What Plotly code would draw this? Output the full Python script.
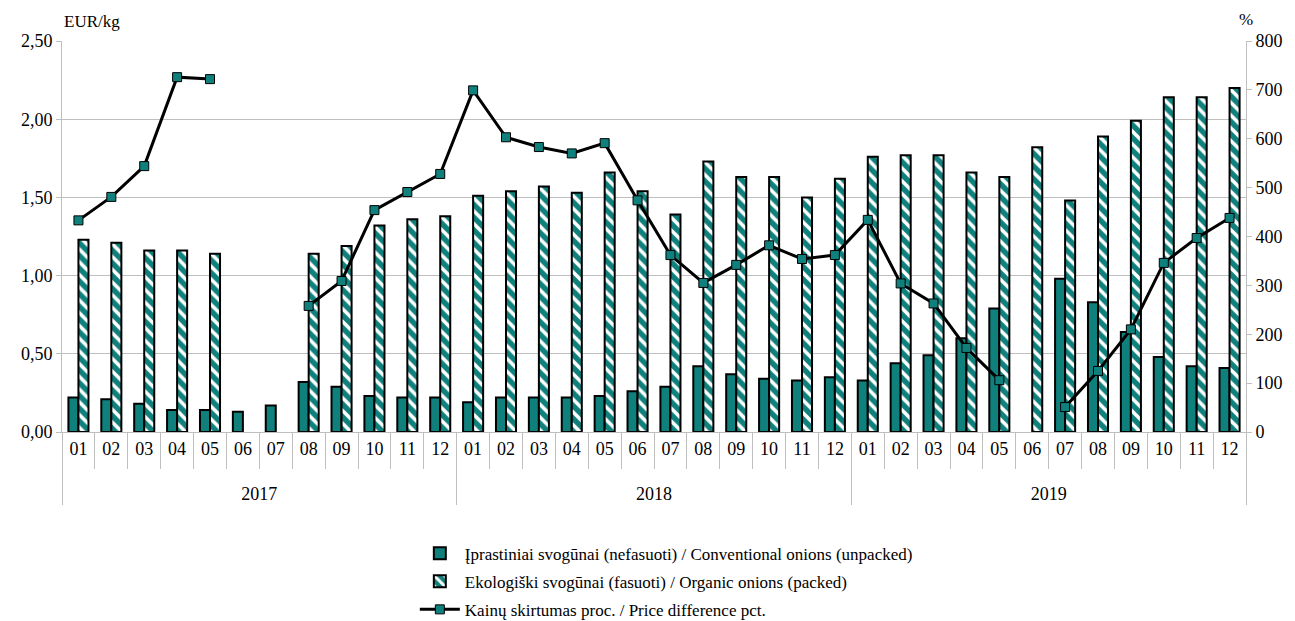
import plotly.graph_objects as go

# Monthly onion prices, 2017-2019
year_names = ["2017", "2018", "2019"]
month_names = ["01", "02", "03", "04", "05", "06", "07", "08", "09", "10", "11", "12"]

conventional = [0.22, 0.21, 0.18, 0.14, 0.14, 0.13, 0.17, 0.32, 0.29, 0.23, 0.22, 0.22,
                0.19, 0.22, 0.22, 0.22, 0.23, 0.26, 0.29, 0.42, 0.37, 0.34, 0.33, 0.35,
                0.33, 0.44, 0.49, 0.60, 0.79, None, 0.98, 0.83, 0.64, 0.48, 0.42, 0.41]

organic = [1.23, 1.21, 1.16, 1.16, 1.14, None, None, 1.14, 1.19, 1.32, 1.36, 1.38,
           1.51, 1.54, 1.57, 1.53, 1.66, 1.54, 1.39, 1.73, 1.63, 1.63, 1.50, 1.62,
           1.76, 1.77, 1.77, 1.66, 1.63, 1.82, 1.48, 1.89, 1.99, 2.14, 2.14, 2.20]

price_diff_pct = [433, 481, 544, 726, 722, None, None, 258, 309, 454, 491, 528,
                  699, 603, 583, 570, 591, 474, 362, 305, 342, 382, 354, 362,
                  434, 304, 263, 172, 106, None, 51, 125, 210, 346, 397, 438]

TEAL = "#0f807c"
GRID = "#bfbfbf"
FONT = "Liberation Serif"

# two-level category axis: year groups (with an empty first line for spacing) and months
years = []
months = []
for y in year_names:
    for m in month_names:
        years.append("\u00a0<br>" + y)
        months.append(m)
x = [years, months]

fig = go.Figure()

fig.add_trace(go.Bar(
    x=x, y=conventional,
    name="Įprastiniai svogūnai (nefasuoti) / Conventional onions (unpacked)",
    legendgroup="a",
    marker=dict(color=TEAL, line=dict(color="black", width=2)),
))

fig.add_trace(go.Bar(
    x=x, y=organic,
    name="Ekologiški svogūnai (fasuoti) / Organic onions (packed)",
    legendgroup="b",
    marker=dict(
        color=TEAL,
        line=dict(color="black", width=2),
        pattern=dict(shape="\\", fillmode="replace", bgcolor=TEAL,
                     fgcolor="white", size=9, solidity=0.4),
    ),
))

fig.add_trace(go.Scatter(
    x=x, y=price_diff_pct,
    name="Kainų skirtumas proc. / Price difference pct.",
    legendgroup="c",
    yaxis="y2",
    mode="lines+markers",
    connectgaps=False,
    line=dict(color="black", width=3),
    marker=dict(symbol="square", size=9, color=TEAL,
                line=dict(color="black", width=1)),
))

fig.update_layout(
    width=1295, height=621,
    margin=dict(l=62, r=49, t=41, b=189, autoexpand=False),
    paper_bgcolor="white", plot_bgcolor="white",
    separators=", ",
    font=dict(family=FONT, size=18, color="black"),
    barmode="group",
    bargap=0.39,
    bargroupgap=0,
    showlegend=True,
    legend=dict(
        orientation="v",
        x=0.298, xanchor="left",
        y=-0.265, yanchor="top",
        font=dict(family=FONT, size=17),
        traceorder="grouped",
        tracegroupgap=3,
        bgcolor="rgba(0,0,0,0)",
        itemwidth=40,
    ),
    xaxis=dict(
        type="multicategory",
        range=[-0.5, 35.5],
        automargin=False,
        showline=True, linecolor=GRID, linewidth=1,
        ticks="outside", tickson="boundaries", ticklen=36,
        tickcolor=GRID, tickwidth=1,
        showdividers=True, dividercolor=GRID, dividerwidth=1,
        showgrid=False,
        tickfont=dict(family=FONT, size=18),
    ),
    yaxis=dict(
        range=[0, 2.5], dtick=0.5, tickformat=".2f",
        automargin=False,
        showline=True, linecolor=GRID, linewidth=1,
        ticks="outside", ticklen=5, tickcolor=GRID,
        showgrid=True, gridcolor=GRID, gridwidth=1,
        zeroline=False,
        tickfont=dict(family=FONT, size=18),
    ),
    yaxis2=dict(
        range=[0, 800], dtick=100,
        automargin=False,
        overlaying="y", side="right",
        showline=True, linecolor=GRID, linewidth=1,
        ticks="outside", ticklen=5, tickcolor=GRID,
        showgrid=False, zeroline=False,
        tickfont=dict(family=FONT, size=18),
    ),
    annotations=[
        dict(text="EUR/kg", xref="paper", yref="paper", x=0.0, y=1.0,
             xanchor="left", yanchor="bottom", yshift=8, showarrow=False,
             font=dict(family=FONT, size=17)),
        dict(text="%", xref="paper", yref="paper", x=1.0, y=1.0,
             xanchor="center", yanchor="bottom", yshift=10, showarrow=False,
             font=dict(family=FONT, size=17)),
    ],
)

fig.write_html("out.html")
